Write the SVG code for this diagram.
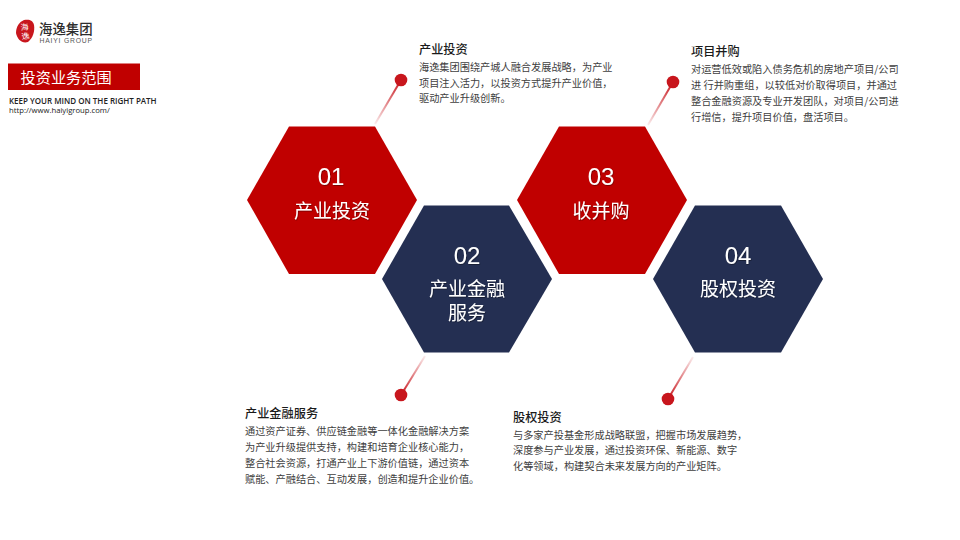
<svg xmlns="http://www.w3.org/2000/svg" width="960" height="540" viewBox="0 0 960 540">
<style>
text{font-family:"Noto Sans CJK SC","Liberation Sans",sans-serif}
.t{font-size:12.2px;font-weight:500;fill:#1a1a1a}
.b{font-size:10.2px;fill:#404040}
.n{font-size:24px;fill:#fff;text-anchor:middle;font-family:"Liberation Sans",sans-serif}
.h{font-size:19px;fill:#fff;text-anchor:middle}
.red{fill:#c00000}
.navy{fill:#242f52}
.dot{fill:#c8161d}
.ln{stroke-width:2;fill:none}
</style>
<defs>
<filter id="s" x="-10%" y="-10%" width="125%" height="130%"><feDropShadow dx="0.6" dy="0.8" stdDeviation="0.5" flood-color="#000" flood-opacity="0.45"/></filter>
<linearGradient id="g1" gradientUnits="userSpaceOnUse" x1="401" y1="80" x2="375" y2="124"><stop offset="0" stop-color="#c8161d"/><stop offset="1" stop-color="#c8161d" stop-opacity="0.08"/></linearGradient>
<linearGradient id="g2" gradientUnits="userSpaceOnUse" x1="401" y1="395" x2="425" y2="356"><stop offset="0" stop-color="#c8161d"/><stop offset="1" stop-color="#c8161d" stop-opacity="0.08"/></linearGradient>
<linearGradient id="g3" gradientUnits="userSpaceOnUse" x1="673" y1="82" x2="648" y2="125"><stop offset="0" stop-color="#c8161d"/><stop offset="1" stop-color="#c8161d" stop-opacity="0.08"/></linearGradient>
<linearGradient id="g4" gradientUnits="userSpaceOnUse" x1="668" y1="399" x2="693" y2="357"><stop offset="0" stop-color="#c8161d"/><stop offset="1" stop-color="#c8161d" stop-opacity="0.08"/></linearGradient>
</defs>
<rect width="960" height="540" fill="#fff"/>

<g id="logo">
<path d="M24 20C29 19 33 20 34 25C35 31 33 38 28 42C22 44 17 39 16 33C16 27 19 22 24 20Z" fill="#c8161d"/>
<text x="25" y="30" font-size="8" fill="#fff" text-anchor="middle" transform="rotate(-8 25 30)">海</text>
<text x="26" y="39" font-size="8" fill="#fff" text-anchor="middle" transform="rotate(-8 26 39)">逸</text>
<text x="39" y="33.500" font-size="13.400px" fill="#2e2e2e" font-weight="500">海逸集团</text>
<text x="39.500" y="43" font-size="6.800px" fill="#555" letter-spacing="0.8" style="font-family:'Liberation Sans',sans-serif">HAIYI GROUP</text>
</g>

<g id="page-title">
<rect x="8" y="63.500" width="132" height="26.500" fill="#c00000"/>
<text x="20.500" y="83" font-size="15.200px" fill="#fff">投资业务范围</text>
<text x="9" y="104" font-size="8px" fill="#222" font-weight="600" style="font-family:'Open Sans','Liberation Sans',sans-serif">KEEP YOUR MIND ON THE RIGHT PATH</text>
<text x="9" y="113" font-size="7.700px" fill="#222" style="font-family:'Open Sans','Liberation Sans',sans-serif">http://www.haiyigroup.com/</text>
</g>

<g id="connectors">
<line class="ln" x1="401" y1="80" x2="375" y2="124" stroke="url(#g1)"/>
<circle class="dot" cx="401" cy="80" r="6.300"/>
<line class="ln" x1="401" y1="395" x2="425" y2="356" stroke="url(#g2)"/>
<circle class="dot" cx="401" cy="395" r="6.300"/>
<line class="ln" x1="673" y1="82" x2="648" y2="125" stroke="url(#g3)"/>
<circle class="dot" cx="673" cy="82" r="6.300"/>
<line class="ln" x1="668" y1="399" x2="693" y2="357" stroke="url(#g4)"/>
<circle class="dot" cx="668" cy="399" r="6.300"/>
</g>

<g id="node-01">
<polygon class="red" points="289,126.500 375,126.500 417,200 375,274 289,274 247,200"/>
<text class="n" x="331" y="185" filter="url(#s)">01</text>
<text class="h" x="332" y="218" filter="url(#s)">产业投资</text>
</g>
<g id="node-02">
<polygon class="navy" points="424,205.500 509,205.500 552,279 509,352.500 424,352.500 382,279"/>
<text class="n" x="467" y="264" filter="url(#s)">02</text>
<text class="h" filter="url(#s)"><tspan x="467" y="296">产业金融</tspan><tspan x="467" y="320">服务</tspan></text>
</g>
<g id="node-03">
<polygon class="red" points="559,126.500 645,126.500 687,200 645,274 559,274 517,200"/>
<text class="n" x="601" y="185" filter="url(#s)">03</text>
<text class="h" x="601" y="218" filter="url(#s)">收并购</text>
</g>
<g id="node-04">
<polygon class="navy" points="695,205.500 781,205.500 823,279 781,352.500 695,352.500 653,279"/>
<text class="n" x="738" y="264" filter="url(#s)">04</text>
<text class="h" x="738" y="296" filter="url(#s)">股权投资</text>
</g>

<g id="text-01">
<text class="t" x="419" y="54">产业投资</text>
<text class="b" x="419" y="71">海逸集团围绕产城人融合发展战略，为产业</text>
<text class="b" x="419" y="87">项目注入活力，以投资方式提升产业价值，</text>
<text class="b" x="419" y="102">驱动产业升级创新。</text>
</g>
<g id="text-02">
<text class="t" x="245" y="418">产业金融服务</text>
<text class="b" x="245" y="435">通过资产证券、供应链金融等一体化金融解决方案</text>
<text class="b" x="245" y="451">为产业升级提供支持，构建和培育企业核心能力，</text>
<text class="b" x="245" y="467">整合社会资源，打通产业上下游价值链，通过资本</text>
<text class="b" x="245" y="483">赋能、产融结合、互动发展，创造和提升企业价值。</text>
</g>
<g id="text-03">
<text class="t" x="691" y="56">项目并购</text>
<text class="b" x="691" y="73">对运营低效或陷入债务危机的房地产项目/公司</text>
<text class="b" x="691" y="89">进 行并购重组，以较低对价取得项目，并通过</text>
<text class="b" x="691" y="105">整合金融资源及专业开发团队，对项目/公司进</text>
<text class="b" x="691" y="121">行增信，提升项目价值，盘活项目。</text>
</g>
<g id="text-04">
<text class="t" x="513" y="422">股权投资</text>
<text class="b" x="513" y="439">与多家产投基金形成战略联盟，把握市场发展趋势，</text>
<text class="b" x="513" y="454">深度参与产业发展，通过投资环保、新能源、数字</text>
<text class="b" x="513" y="470">化等领域，构建契合未来发展方向的产业矩阵。</text>
</g>
</svg>
